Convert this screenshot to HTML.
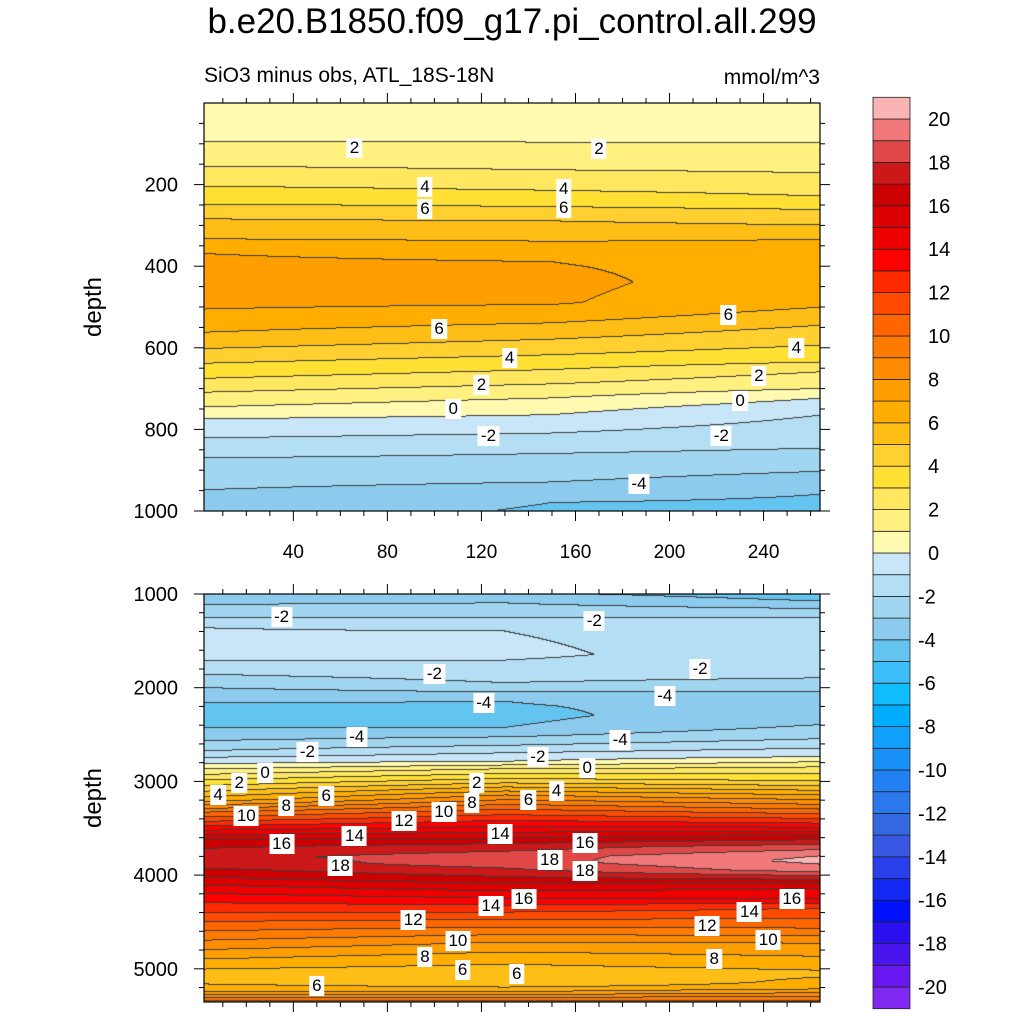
<!DOCTYPE html>
<html><head><meta charset="utf-8">
<style>
body{margin:0;background:#fff;font-family:"Liberation Sans",sans-serif;}
#root{position:relative;width:1024px;height:1024px;overflow:hidden;background:#fff;}
.t{position:absolute;white-space:nowrap;color:#000;}
canvas{position:absolute;}
.lbl{position:absolute;background:#fff;font-size:17px;padding:1px 3px;line-height:18px;transform:translate(-50%,-50%);}
</style></head>
<body>
<div id="root">
<div class="t" style="left:0;width:1024px;text-align:center;top:2px;font-size:35px;">b.e20.B1850.f09_g17.pi_control.all.299</div>
<div class="t" style="left:204px;top:64px;font-size:21px;">SiO3 minus obs, ATL_18S-18N</div>
<div class="t" style="right:204px;top:66px;font-size:21px;">mmol/m^3</div>
<canvas id="c1" width="616" height="408" style="left:204px;top:103px"></canvas>
<canvas id="c2" width="616" height="408" style="left:204px;top:594px"></canvas>
<svg id="axes" width="1024" height="1024" style="position:absolute;left:0;top:0"></svg>
</div>
<script>
// ---- data ----
const bandColors = ["#8028f0","#6818f0","#4a14ec","#2a10f0","#0010fc","#1428f4","#2840ec","#3858e4","#3468e0","#2a78ec","#2080f4","#1890f8","#10a0fc","#00acfc","#10bcfc","#3cbef8","#64c4f0","#8ccbee","#a0d6f0","#b4def4","#c8e6f8","#fffab0","#fff080","#ffe860","#ffe033","#ffd030","#ffbe16","#ffae00","#ff9e00","#ff8c00","#ff7a00","#ff6600","#ff4a00","#ff2a00","#ff0000","#ee0000","#dd0000","#cc0000","#cc1818","#e04848","#f07878","#f9b4b4"]; // bands -21..20
const topColumnsX = [2, 150, 264];
const topProfileLeft = [[0,0.6],[50,0.4],[95,1],[156,2],[205,3],[249,4],[285,5],[334,6],[370,7],[430,7.6],[480,7.3],[515,6.9],[563,6],[603,5],[639,4],[676,3],[710,2],[746,1],[775,0],[822,-1],[871,-2],[949,-3],[1000,-3.5]];
const topProfileMid = [[0,0.6],[50,0.4],[97,1],[165,2],[215,3],[255,4],[290,5],[340,6],[390,7],[440,7.25],[490,7.1],[520,6.5],[560,5.5],[600,4.5],[640,3.4],[676,2.4],[710,1.4],[745,0.4],[765,0],[810,-1],[860,-2],[930,-3],[980,-4],[1000,-4.1]];
const topProfileRight = [[0,0.6],[50,0.4],[99,1],[172,2],[229,3],[262,4],[300,5],[335,6],[400,6.6],[493,6.2],[546,5],[595,4],[636,3],[660,2],[701,1],[725,0],[766,-1],[847,-2],[904,-3],[960,-4],[1000,-4.3]];
const botColumnsX = [2, 130, 264];
const botProfileLeft = [[1000,-3.6],[1117,-3],[1259,-2],[1365,-1],[1550,-0.5],[1720,-1],[1862,-2],[2004,-3],[2163,-4],[2300,-4.3],[2429,-4],[2571,-3],[2677,-2],[2748,-1],[2819,0],[2900,1.5],[3050,4],[3200,6.5],[3333,10],[3480,13],[3617,16],[3750,17.3],[3812,17.7],[3900,17.3],[4025,16],[4200,14],[4400,12],[4600,10],[4800,8],[4950,6.5],[5100,5.2],[5250,7],[5340,10]];
const botProfileMid = [[1000,-3.8],[1100,-3],[1259,-2],[1400,-1],[1650,-0.8],[1800,-1.3],[1950,-2],[2050,-3],[2150,-4],[2300,-4.3],[2430,-4],[2530,-3],[2620,-2],[2700,-1],[2790,0],[2870,2],[3000,4.5],[3150,8],[3300,11],[3450,13.5],[3580,15.5],[3700,17.5],[3800,18.5],[3880,18.5],[3980,17.5],[4100,16],[4250,14],[4400,12],[4560,10],[4720,8],[4880,6.5],[5030,5.5],[5150,5],[5250,7],[5340,10]];
const botProfileRight = [[1000,-4.6],[1080,-4],[1160,-3],[1259,-2],[1400,-1.5],[1800,-1.5],[1900,-2],[2050,-3],[2200,-3.5],[2400,-3],[2550,-2],[2650,-1],[2740,0],[2850,2],[3000,4],[3150,7],[3300,10],[3450,13],[3580,16],[3700,18.5],[3800,20],[3850,20.3],[3950,19.5],[4050,17],[4150,15],[4250,14],[4358,12],[4571,10],[4731,8],[4900,6.8],[5050,5.8],[5200,6.5],[5340,10]];
const topLabels = [[66,110,"2"],[170,112,"2"],[96,205,"4"],[155,210,"4"],[96,260,"6"],[155,258,"6"],[102,555,"6"],[225,520,"6"],[132,625,"4"],[254,600,"4"],[120,690,"2"],[238,670,"2"],[108,750,"0"],[230,730,"0"],[123,815,"-2"],[222,815,"-2"],[187,935,"-4"]];
const botLabels = [[35,1250,"-2"],[168,1290,"-2"],[100,1850,"-2"],[213,1800,"-2"],[121,2160,"-4"],[198,2090,"-4"],[67,2530,"-4"],[179,2560,"-4"],[46,2690,"-2"],[144,2740,"-2"],[28,2910,"0"],[165,2860,"0"],[17,3020,"2"],[118,3020,"2"],[8,3140,"4"],[152,3100,"4"],[54,3160,"6"],[140,3200,"6"],[37,3260,"8"],[116,3230,"8"],[20,3370,"10"],[104,3330,"10"],[87,3420,"12"],[66,3580,"14"],[128,3560,"14"],[35,3670,"16"],[164,3660,"16"],[60,3900,"18"],[149,3840,"18"],[164,3960,"18"],[138,4250,"16"],[252,4260,"16"],[124,4330,"14"],[234,4390,"14"],[91,4480,"12"],[216,4540,"12"],[110,4700,"10"],[242,4690,"10"],[96,4870,"8"],[219,4900,"8"],[112,5010,"6"],[135,5060,"6"],[50,5180,"6"]];
const topYTicks = [200,400,600,800,1000];
const botYTicks = [1000,2000,3000,4000,5000];
const xTicks = [40,80,120,160,200,240];
const cbLabels = [20,18,16,14,12,10,8,6,4,2,0,-2,-4,-6,-8,-10,-12,-14,-16,-18,-20];

// ---- geometry ----
const PX0=204, PX1=820, XMIN=2, XMAX=264;
const sx = x => PX0 + (x-XMIN)/(XMAX-XMIN)*(PX1-PX0);
const topY = d => 103 + d*0.408;
const botY = d => 594 + (d-1000)*0.0937;
const cbY = v => 553 - v*21.7;

function interp(p,d){
  if(d<=p[0][0]) return p[0][1];
  for(let i=1;i<p.length;i++){ if(d<=p[i][0]){const a=p[i-1],b=p[i];return a[1]+(b[1]-a[1])*(d-a[0])/(b[0]-a[0]);} }
  return p[p.length-1][1];
}
function field(cols,profs,x,d){
  let i=0; while(i<cols.length-2 && x>cols[i+1]) i++;
  const t=Math.max(0,Math.min(1,(x-cols[i])/(cols[i+1]-cols[i])));
  return interp(profs[i],d)*(1-t)+interp(profs[i+1],d)*t;
}
function hex(c){return [parseInt(c.slice(1,3),16),parseInt(c.slice(3,5),16),parseInt(c.slice(5,7),16)];}
const rgb = bandColors.map(hex);
function drawField(id,cols,profs,dOf){
  const cv=document.getElementById(id),ctx=cv.getContext('2d');
  const W=cv.width,H=cv.height,img=ctx.createImageData(W,H);
  const band=new Int16Array(W*H);
  for(let j=0;j<H;j++){const d=dOf(j+0.5);
    for(let i=0;i<W;i++){const x=XMIN+(i+0.5)/W*(XMAX-XMIN);
      let b=Math.floor(field(cols,profs,x,d));b=Math.max(-21,Math.min(20,b));band[j*W+i]=b;}}
  for(let j=0;j<H;j++)for(let i=0;i<W;i++){
    const k=j*W+i,b=band[k];let c=rgb[b+21];
    const edge=(j+1<H&&band[k+W]!==b)||(i+1<W&&band[k+1]!==b);
    if(edge)c=[60,60,60];
    img.data[k*4]=c[0];img.data[k*4+1]=c[1];img.data[k*4+2]=c[2];img.data[k*4+3]=255;}
  ctx.putImageData(img,0,0);
}
drawField('c1',topColumnsX,[topProfileLeft,topProfileMid,topProfileRight],j=>j/0.408);
drawField('c2',botColumnsX,[botProfileLeft,botProfileMid,botProfileRight],j=>1000+j/0.0937);

// ---- axes ----
const svg=document.getElementById('axes');const NS='http://www.w3.org/2000/svg';
function el(tag,attrs){const e=document.createElementNS(NS,tag);for(const k in attrs)e.setAttribute(k,attrs[k]);svg.appendChild(e);return e;}
function txt(x,y,s,anchor,size,name){const e=el('text',{x:x,y:y,'text-anchor':anchor,'font-size':size,'font-family':'Liberation Sans, sans-serif'});e.textContent=s;
  
  return e;}
function panel(y0,y1,yTicksMaj,minStep,dmin,dmax,yf,showX,prefix){
  const f=el('rect',{x:PX0,y:y0,width:PX1-PX0,height:y1-y0,fill:'none',stroke:'#000','stroke-width':1.2});
  
  
  for(let d=dmin;d<=dmax+0.1;d+=minStep){const y=yf(d);const maj=yTicksMaj.includes(d);const L=maj?10:5;
    el('line',{x1:PX0-L,y1:y,x2:PX0,y2:y,stroke:'#000'});el('line',{x1:PX1,y1:y,x2:PX1+L,y2:y,stroke:'#000'});}
  yTicksMaj.forEach(d=>txt(178,yf(d)+7,String(d),'end',20,prefix+'-y-tick-label'));
  for(let x=10;x<=XMAX;x+=10){const X=sx(x);const maj=xTicks.includes(x);const L=maj?10:5;
    el('line',{x1:X,y1:y1,x2:X,y2:y1+L,stroke:'#000'});el('line',{x1:X,y1:y0-L,x2:X,y2:y0,stroke:'#000'});}
  if(showX) xTicks.forEach(x=>txt(sx(x),y1+47,String(x),'middle',19,prefix+'-x-tick-label'));
  const yt=txt(0,0,'depth','middle',24,prefix+'-y-axis-title');yt.setAttribute('transform','translate(101,'+((y0+y1)/2)+') rotate(-90)');
}
panel(103,511,topYTicks,50,50,1000,topY,true,'top');
panel(594,1002,botYTicks,200,1000,5340,botY,false,'bottom');

// colorbar
for(let b=-21;b<=20;b++){
  const r=el('rect',{x:873,y:cbY(b+1),width:37,height:21.7,fill:bandColors[b+21],stroke:'#222','stroke-width':0.8});
  
  
}
cbLabels.forEach(v=>txt(v<0?918:928,cbY(v)+7,String(v),'start',20,'colorbar-label'));

// contour labels
const root=document.getElementById('root');
function addLabels(list,yf){list.forEach(l=>{const d=document.createElement('div');d.className='lbl';d.style.left=sx(l[0])+'px';d.style.top=yf(l[1])+'px';d.textContent=l[2];
  
  
  root.appendChild(d);});}
addLabels(topLabels,topY);addLabels(botLabels,botY);
</script>
</body></html>
